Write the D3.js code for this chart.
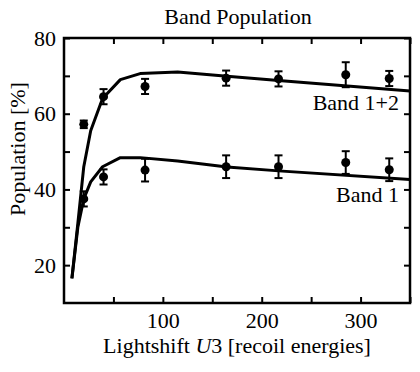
<!DOCTYPE html>
<html>
<head>
<meta charset="utf-8">
<script src="https://cdn.jsdelivr.net/npm/d3@7"></script>
<style>
  body { margin: 0; background: #fff; }
</style>
</head>
<body>
<svg width="420" height="372"></svg>
<script>
// measured points (U3, population %, error)
var pointX = [20, 40, 82, 164, 217, 285, 329];
var band12 = [57.2, 64.5, 67.2, 69.4, 69.2, 70.3, 69.3];
var band12Err = [1, 2, 2, 2, 2, 3.3, 2];
var band1 = [37.5, 43.3, 45.1, 46, 46, 47.1, 45.2];
var band1Err = [2, 2, 3, 3, 3, 3, 3];

// theory curves
var curveX = [8, 14, 20, 27, 39, 57, 77, 115, 165, 217, 350];
var curve12 = [16.5, 31, 46, 55.5, 64, 69, 70.6, 71, 69.9, 68.8, 66.0];
var curve1 = [16.5, 30, 37.5, 42, 46, 48.4, 48.4, 47.5, 45.9, 44.9, 42.6];

var xTicks = [100, 200, 300];
var yTicks = [20, 40, 60, 80];

var serif = "Liberation Serif";
var svg = d3.select("svg");
var margin = { top: 38, right: 10, bottom: 69, left: 64 },
    width = +svg.attr("width") - margin.left - margin.right,
    height = +svg.attr("height") - margin.top - margin.bottom;

var g = svg.append("g")
    .attr("transform", `translate(${margin.left}, ${margin.top})`);

var x = d3.scaleLinear().domain([0, 350]).range([0, width]);
var y = d3.scaleLinear().domain([10, 80]).range([height, 0]);

// inward ticks on all four sides
var tk = 6;
g.append("g").attr("transform", `translate(0, ${height})`)
    .call(d3.axisBottom(x).tickValues(d3.range(50, 351, 50)).tickSizeInner(-tk).tickSizeOuter(0)
        .tickPadding(9).tickFormat(d => xTicks.includes(d) ? d : ""));
g.append("g")
    .call(d3.axisTop(x).tickValues(d3.range(50, 351, 50)).tickSizeInner(-tk).tickSizeOuter(0).tickFormat(""));
g.append("g")
    .call(d3.axisLeft(y).tickValues(d3.range(20, 81, 10)).tickSizeInner(-tk).tickSizeOuter(0)
        .tickPadding(8).tickFormat(d => yTicks.includes(d) ? d : ""));
g.append("g").attr("transform", `translate(${width}, 0)`)
    .call(d3.axisRight(y).tickValues(d3.range(20, 81, 10)).tickSizeInner(-tk).tickSizeOuter(0).tickFormat(""));

g.selectAll(".domain").remove();
g.selectAll(".tick line").attr("stroke", "#000").attr("stroke-width", 2);
g.selectAll(".tick text").attr("fill", "#000")
    .style("font-family", serif).style("font-size", "22px");

g.append("rect")
    .attr("width", width).attr("height", height)
    .attr("fill", "none").attr("stroke", "#000").attr("stroke-width", 2.5);

// curves
var line = d3.line().x(d => x(d[0])).y(d => y(d[1]));
[curve12, curve1].forEach(c => {
    g.append("path")
        .datum(curveX.map((v, i) => [v, c[i]]))
        .attr("d", line)
        .attr("fill", "none")
        .attr("stroke", "#000")
        .attr("stroke-width", 3)
        .attr("stroke-linejoin", "round");
});

// points with error bars
[[band12, band12Err], [band1, band1Err]].forEach(s => {
    var pts = g.append("g").selectAll("g")
        .data(pointX.map((v, i) => ({ x: v, y: s[0][i], e: s[1][i] })))
        .enter().append("g");
    pts.append("line")
        .attr("x1", d => x(d.x)).attr("x2", d => x(d.x))
        .attr("y1", d => y(d.y - d.e)).attr("y2", d => y(d.y + d.e))
        .attr("stroke", "#000").attr("stroke-width", 2);
    [-1, 1].forEach(sg => {
        pts.append("line")
            .attr("x1", d => x(d.x) - 4).attr("x2", d => x(d.x) + 4)
            .attr("y1", d => y(d.y + sg * d.e)).attr("y2", d => y(d.y + sg * d.e))
            .attr("stroke", "#000").attr("stroke-width", 2);
    });
    pts.append("circle")
        .attr("cx", d => x(d.x)).attr("cy", d => y(d.y))
        .attr("r", 4.5).attr("fill", "#000");
});

function label(sel, size) {
    return sel.style("font-family", serif).style("font-size", size + "px").attr("fill", "#000");
}

// curve labels
label(g.append("text").attr("x", 335).attr("y", y(61))
    .attr("text-anchor", "end").text("Band 1+2"), 22);
label(g.append("text").attr("x", 335).attr("y", y(36.7))
    .attr("text-anchor", "end").text("Band 1"), 22);

// title and axis labels
label(svg.append("text").attr("x", 238).attr("y", 24)
    .attr("text-anchor", "middle").text("Band Population"), 22);

var xl = label(svg.append("text").attr("x", 237).attr("y", 353)
    .attr("text-anchor", "middle"), 22);
xl.append("tspan").text("Lightshift ");
xl.append("tspan").attr("font-style", "italic").text("U");
xl.append("tspan").text("3 [recoil energies]");

label(svg.append("text")
    .attr("transform", "translate(25, 149) rotate(-90)")
    .attr("text-anchor", "middle").text("Population [%]"), 22);
</script>
</body>
</html>
